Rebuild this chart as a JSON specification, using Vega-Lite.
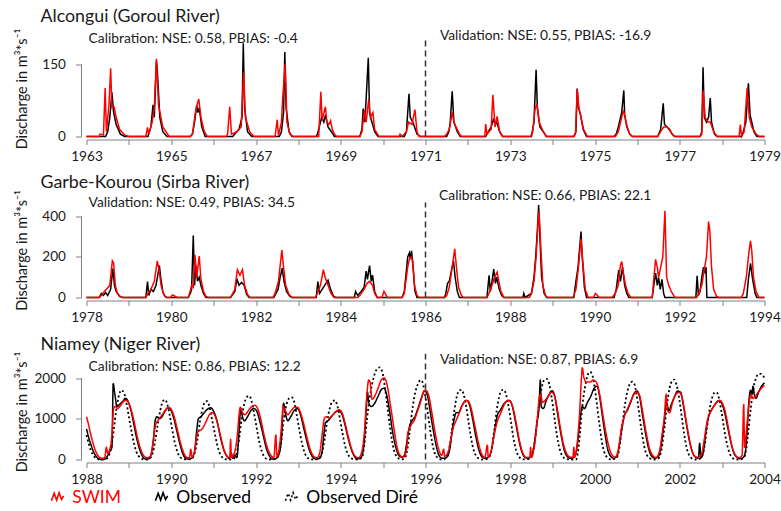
{
"$schema": "https://vega.github.io/schema/vega-lite/v6.json",
"background": "white",
"padding": {"left": 14.5, "top": 7.5, "right": 0, "bottom": 0},
"config": {
  "font": "Lato",
  "view": {"stroke": null},
  "axis": {"grid": false, "domainColor": "#808080", "tickColor": "#808080", "labelColor": "#1a1a1a", "titleColor": "#1a1a1a", "labelFontSize": 13.6, "titleFontSize": 14.5, "titleFontWeight": "normal", "labelFont": "Lato", "titleFont": "Lato"},
  "title": {"fontSize": 17.8, "fontWeight": "normal", "color": "#1a1a1a", "anchor": "start", "frame": "group", "dx": -46, "font": "Lato"},
  "legend": {"labelFontSize": 17.5, "labelFont": "Lato", "symbolType": "M-1,0.5L-0.55,-0.7L-0.15,0.4L0.25,-0.8L0.65,0.3L1,-0.3", "symbolSize": 150, "symbolStrokeWidth": 1.6, "columnPadding": 30, "labelOffset": 6, "symbolFillColor": "transparent"}
},
"spacing": 66,
"bounds": "flush",
"resolve": {"scale": {"color": "independent", "strokeDash": "independent"}, "legend": {"color": "independent", "strokeDash": "independent"}},
"datasets": {
"aO": [{"t":1963,"q":0},{"t":1963.45,"q":0},{"t":1963.5,"q":10},{"t":1963.55,"q":40},{"t":1963.6,"q":92},{"t":1963.64,"q":50},{"t":1963.7,"q":25},{"t":1963.8,"q":5},{"t":1963.9,"q":0},{"t":1964.45,"q":0},{"t":1964.52,"q":20},{"t":1964.57,"q":66},{"t":1964.6,"q":40},{"t":1964.65,"q":157},{"t":1964.67,"q":140},{"t":1964.73,"q":40},{"t":1964.8,"q":10},{"t":1964.9,"q":0},{"t":1965.45,"q":0},{"t":1965.5,"q":5},{"t":1965.55,"q":30},{"t":1965.6,"q":65},{"t":1965.63,"q":50},{"t":1965.66,"q":60},{"t":1965.72,"q":20},{"t":1965.8,"q":0},{"t":1966.45,"q":0},{"t":1966.5,"q":5},{"t":1966.6,"q":15},{"t":1966.67,"q":40},{"t":1966.7,"q":194},{"t":1966.73,"q":60},{"t":1966.8,"q":10},{"t":1966.9,"q":0},{"t":1967.55,"q":0},{"t":1967.6,"q":10},{"t":1967.65,"q":50},{"t":1967.68,"q":176},{"t":1967.71,"q":60},{"t":1967.78,"q":10},{"t":1967.85,"q":0},{"t":1968.42,"q":0},{"t":1968.45,"q":5},{"t":1968.55,"q":40},{"t":1968.6,"q":30},{"t":1968.64,"q":45},{"t":1968.7,"q":20},{"t":1968.78,"q":10},{"t":1968.85,"q":0},{"t":1969.45,"q":0},{"t":1969.5,"q":15},{"t":1969.53,"q":58},{"t":1969.57,"q":30},{"t":1969.65,"q":164},{"t":1969.68,"q":50},{"t":1969.72,"q":35},{"t":1969.8,"q":10},{"t":1969.88,"q":0},{"t":1970.5,"q":0},{"t":1970.55,"q":10},{"t":1970.61,"q":89},{"t":1970.64,"q":40},{"t":1970.7,"q":30},{"t":1970.8,"q":5},{"t":1970.88,"q":0},{"t":1971.5,"q":0},{"t":1971.55,"q":10},{"t":1971.58,"q":25},{"t":1971.63,"q":94},{"t":1971.67,"q":30},{"t":1971.75,"q":10},{"t":1971.82,"q":0},{"t":1972.42,"q":0},{"t":1972.45,"q":5},{"t":1972.55,"q":20},{"t":1972.6,"q":35},{"t":1972.65,"q":25},{"t":1972.68,"q":30},{"t":1972.75,"q":10},{"t":1972.82,"q":0},{"t":1973.5,"q":0},{"t":1973.56,"q":30},{"t":1973.61,"q":139},{"t":1973.64,"q":60},{"t":1973.7,"q":20},{"t":1973.78,"q":10},{"t":1973.85,"q":0},{"t":1974.5,"q":0},{"t":1974.55,"q":10},{"t":1974.58,"q":100},{"t":1974.61,"q":60},{"t":1974.66,"q":45},{"t":1974.72,"q":15},{"t":1974.8,"q":0},{"t":1975.45,"q":0},{"t":1975.5,"q":5},{"t":1975.55,"q":20},{"t":1975.63,"q":50},{"t":1975.68,"q":96},{"t":1975.7,"q":45},{"t":1975.75,"q":20},{"t":1975.82,"q":5},{"t":1975.88,"q":0},{"t":1976.48,"q":0},{"t":1976.55,"q":15},{"t":1976.61,"q":69},{"t":1976.64,"q":25},{"t":1976.7,"q":20},{"t":1976.75,"q":15},{"t":1976.82,"q":5},{"t":1976.88,"q":0},{"t":1977.48,"q":0},{"t":1977.52,"q":10},{"t":1977.55,"q":144},{"t":1977.58,"q":40},{"t":1977.63,"q":30},{"t":1977.68,"q":40},{"t":1977.72,"q":80},{"t":1977.75,"q":30},{"t":1977.82,"q":5},{"t":1977.88,"q":0},{"t":1978.45,"q":0},{"t":1978.5,"q":10},{"t":1978.56,"q":30},{"t":1978.62,"q":111},{"t":1978.66,"q":45},{"t":1978.75,"q":10},{"t":1978.82,"q":0},{"t":1979,"q":0}],
"aS": [{"t":1963,"q":0},{"t":1963.3,"q":0},{"t":1963.32,"q":5},{"t":1963.4,"q":3},{"t":1963.44,"q":101},{"t":1963.47,"q":10},{"t":1963.53,"q":65},{"t":1963.57,"q":142},{"t":1963.6,"q":60},{"t":1963.65,"q":62},{"t":1963.7,"q":40},{"t":1963.78,"q":15},{"t":1963.9,"q":3},{"t":1964,"q":0},{"t":1964.4,"q":0},{"t":1964.44,"q":19},{"t":1964.47,"q":5},{"t":1964.55,"q":30},{"t":1964.6,"q":60},{"t":1964.65,"q":162},{"t":1964.7,"q":65},{"t":1964.8,"q":20},{"t":1964.95,"q":0},{"t":1965.45,"q":0},{"t":1965.5,"q":5},{"t":1965.57,"q":50},{"t":1965.62,"q":70},{"t":1965.65,"q":78},{"t":1965.7,"q":40},{"t":1965.78,"q":10},{"t":1965.85,"q":0},{"t":1966.3,"q":0},{"t":1966.33,"q":5},{"t":1966.38,"q":62},{"t":1966.42,"q":5},{"t":1966.55,"q":10},{"t":1966.65,"q":20},{"t":1966.71,"q":134},{"t":1966.75,"q":40},{"t":1966.85,"q":10},{"t":1966.95,"q":0},{"t":1967.45,"q":0},{"t":1967.5,"q":35},{"t":1967.53,"q":2},{"t":1967.6,"q":30},{"t":1967.63,"q":80},{"t":1967.69,"q":151},{"t":1967.73,"q":30},{"t":1967.8,"q":5},{"t":1967.88,"q":0},{"t":1968.48,"q":0},{"t":1968.53,"q":93},{"t":1968.56,"q":35},{"t":1968.64,"q":62},{"t":1968.67,"q":30},{"t":1968.72,"q":25},{"t":1968.76,"q":33},{"t":1968.8,"q":15},{"t":1968.85,"q":5},{"t":1968.9,"q":0},{"t":1969.45,"q":0},{"t":1969.5,"q":10},{"t":1969.56,"q":55},{"t":1969.6,"q":30},{"t":1969.66,"q":78},{"t":1969.7,"q":40},{"t":1969.76,"q":50},{"t":1969.8,"q":15},{"t":1969.9,"q":0},{"t":1970.38,"q":0},{"t":1970.4,"q":5},{"t":1970.45,"q":0},{"t":1970.55,"q":10},{"t":1970.6,"q":30},{"t":1970.68,"q":25},{"t":1970.75,"q":56},{"t":1970.8,"q":10},{"t":1970.85,"q":0},{"t":1971.45,"q":0},{"t":1971.5,"q":5},{"t":1971.56,"q":15},{"t":1971.63,"q":50},{"t":1971.67,"q":30},{"t":1971.72,"q":20},{"t":1971.8,"q":5},{"t":1971.85,"q":0},{"t":1972.4,"q":0},{"t":1972.42,"q":26},{"t":1972.45,"q":5},{"t":1972.55,"q":15},{"t":1972.59,"q":87},{"t":1972.64,"q":20},{"t":1972.69,"q":42},{"t":1972.75,"q":10},{"t":1972.82,"q":0},{"t":1973.48,"q":0},{"t":1973.53,"q":10},{"t":1973.58,"q":55},{"t":1973.63,"q":68},{"t":1973.68,"q":30},{"t":1973.78,"q":10},{"t":1973.85,"q":0},{"t":1974.5,"q":0},{"t":1974.54,"q":5},{"t":1974.58,"q":98},{"t":1974.62,"q":60},{"t":1974.67,"q":40},{"t":1974.73,"q":15},{"t":1974.82,"q":0},{"t":1975.48,"q":0},{"t":1975.55,"q":10},{"t":1975.63,"q":40},{"t":1975.67,"q":55},{"t":1975.71,"q":40},{"t":1975.76,"q":20},{"t":1975.82,"q":5},{"t":1975.88,"q":0},{"t":1976.48,"q":0},{"t":1976.55,"q":10},{"t":1976.62,"q":20},{"t":1976.7,"q":20},{"t":1976.76,"q":15},{"t":1976.82,"q":5},{"t":1976.88,"q":0},{"t":1977.48,"q":0},{"t":1977.52,"q":5},{"t":1977.55,"q":96},{"t":1977.6,"q":40},{"t":1977.66,"q":30},{"t":1977.72,"q":30},{"t":1977.8,"q":10},{"t":1977.88,"q":0},{"t":1978.4,"q":0},{"t":1978.43,"q":25},{"t":1978.46,"q":0},{"t":1978.52,"q":10},{"t":1978.59,"q":101},{"t":1978.64,"q":40},{"t":1978.7,"q":20},{"t":1978.8,"q":5},{"t":1978.88,"q":0},{"t":1979,"q":0}],
"bO": [{"t":1978,"q":0},{"t":1978.3,"q":0},{"t":1978.35,"q":20},{"t":1978.4,"q":10},{"t":1978.45,"q":25},{"t":1978.5,"q":10},{"t":1978.57,"q":40},{"t":1978.62,"q":143},{"t":1978.66,"q":60},{"t":1978.7,"q":30},{"t":1978.78,"q":5},{"t":1978.85,"q":0},{"t":1979.4,"q":0},{"t":1979.44,"q":79},{"t":1979.47,"q":10},{"t":1979.52,"q":40},{"t":1979.58,"q":30},{"t":1979.64,"q":60},{"t":1979.72,"q":157},{"t":1979.75,"q":100},{"t":1979.8,"q":30},{"t":1979.85,"q":5},{"t":1979.9,"q":0},{"t":1980.4,"q":0},{"t":1980.45,"q":20},{"t":1980.48,"q":40},{"t":1980.52,"q":306},{"t":1980.55,"q":60},{"t":1980.58,"q":160},{"t":1980.62,"q":80},{"t":1980.66,"q":100},{"t":1980.7,"q":60},{"t":1980.76,"q":20},{"t":1980.82,"q":0},{"t":1981.4,"q":0},{"t":1981.5,"q":30},{"t":1981.55,"q":90},{"t":1981.6,"q":60},{"t":1981.66,"q":75},{"t":1981.72,"q":60},{"t":1981.78,"q":15},{"t":1981.84,"q":0},{"t":1982.42,"q":0},{"t":1982.47,"q":20},{"t":1982.52,"q":40},{"t":1982.57,"q":100},{"t":1982.62,"q":145},{"t":1982.66,"q":80},{"t":1982.72,"q":30},{"t":1982.8,"q":5},{"t":1982.86,"q":0},{"t":1983.42,"q":0},{"t":1983.46,"q":79},{"t":1983.5,"q":20},{"t":1983.56,"q":40},{"t":1983.62,"q":60},{"t":1983.7,"q":85},{"t":1983.76,"q":40},{"t":1983.82,"q":10},{"t":1983.88,"q":0},{"t":1984.32,"q":0},{"t":1984.35,"q":30},{"t":1984.4,"q":10},{"t":1984.48,"q":30},{"t":1984.55,"q":50},{"t":1984.6,"q":130},{"t":1984.63,"q":90},{"t":1984.68,"q":157},{"t":1984.72,"q":80},{"t":1984.75,"q":110},{"t":1984.8,"q":30},{"t":1984.86,"q":0},{"t":1985.45,"q":0},{"t":1985.5,"q":30},{"t":1985.58,"q":200},{"t":1985.62,"q":220},{"t":1985.64,"q":190},{"t":1985.67,"q":230},{"t":1985.71,"q":140},{"t":1985.75,"q":30},{"t":1985.8,"q":0},{"t":1986.45,"q":0},{"t":1986.48,"q":20},{"t":1986.52,"q":70},{"t":1986.56,"q":80},{"t":1986.62,"q":140},{"t":1986.66,"q":180},{"t":1986.7,"q":100},{"t":1986.75,"q":30},{"t":1986.8,"q":0},{"t":1987.45,"q":0},{"t":1987.5,"q":110},{"t":1987.53,"q":30},{"t":1987.57,"q":80},{"t":1987.61,"q":140},{"t":1987.65,"q":70},{"t":1987.68,"q":100},{"t":1987.74,"q":40},{"t":1987.8,"q":10},{"t":1987.85,"q":0},{"t":1988.3,"q":0},{"t":1988.32,"q":20},{"t":1988.35,"q":0},{"t":1988.5,"q":20},{"t":1988.56,"q":100},{"t":1988.6,"q":200},{"t":1988.64,"q":330},{"t":1988.67,"q":456},{"t":1988.7,"q":300},{"t":1988.74,"q":100},{"t":1988.8,"q":20},{"t":1988.86,"q":0},{"t":1989.5,"q":0},{"t":1989.55,"q":80},{"t":1989.6,"q":150},{"t":1989.67,"q":326},{"t":1989.7,"q":200},{"t":1989.75,"q":50},{"t":1989.8,"q":0},{"t":1990.45,"q":0},{"t":1990.5,"q":40},{"t":1990.56,"q":135},{"t":1990.6,"q":80},{"t":1990.65,"q":150},{"t":1990.7,"q":60},{"t":1990.75,"q":20},{"t":1990.8,"q":0},{"t":1991.35,"q":0},{"t":1991.4,"q":80},{"t":1991.43,"q":120},{"t":1991.47,"q":60},{"t":1991.5,"q":100},{"t":1991.54,"q":40},{"t":1991.58,"q":90},{"t":1991.62,"q":20},{"t":1991.65,"q":0},{"t":1992.38,"q":0},{"t":1992.41,"q":107},{"t":1992.44,"q":10},{"t":1992.48,"q":30},{"t":1992.52,"q":100},{"t":1992.56,"q":150},{"t":1992.6,"q":120},{"t":1992.62,"q":150},{"t":1992.64,"q":0},{"t":1993.58,"q":0},{"t":1993.62,"q":90},{"t":1993.67,"q":168},{"t":1993.72,"q":90},{"t":1993.78,"q":20},{"t":1993.82,"q":0},{"t":1994,"q":0}],
"bS": [{"t":1978,"q":0},{"t":1978.3,"q":0},{"t":1978.35,"q":10},{"t":1978.42,"q":30},{"t":1978.5,"q":48},{"t":1978.55,"q":60},{"t":1978.61,"q":181},{"t":1978.64,"q":170},{"t":1978.68,"q":60},{"t":1978.73,"q":20},{"t":1978.8,"q":5},{"t":1978.85,"q":0},{"t":1979.4,"q":0},{"t":1979.45,"q":20},{"t":1979.52,"q":40},{"t":1979.6,"q":80},{"t":1979.67,"q":181},{"t":1979.71,"q":140},{"t":1979.76,"q":60},{"t":1979.82,"q":15},{"t":1979.88,"q":0},{"t":1979.98,"q":0},{"t":1980.03,"q":13},{"t":1980.1,"q":5},{"t":1980.14,"q":0},{"t":1980.4,"q":0},{"t":1980.42,"q":10},{"t":1980.48,"q":60},{"t":1980.52,"q":50},{"t":1980.56,"q":211},{"t":1980.6,"q":100},{"t":1980.66,"q":205},{"t":1980.7,"q":90},{"t":1980.76,"q":30},{"t":1980.82,"q":5},{"t":1980.88,"q":0},{"t":1981.4,"q":0},{"t":1981.5,"q":40},{"t":1981.56,"q":137},{"t":1981.62,"q":110},{"t":1981.68,"q":137},{"t":1981.73,"q":60},{"t":1981.8,"q":15},{"t":1981.86,"q":0},{"t":1982.4,"q":0},{"t":1982.45,"q":20},{"t":1982.53,"q":80},{"t":1982.61,"q":234},{"t":1982.65,"q":150},{"t":1982.7,"q":60},{"t":1982.78,"q":15},{"t":1982.85,"q":0},{"t":1983.4,"q":0},{"t":1983.45,"q":20},{"t":1983.52,"q":60},{"t":1983.59,"q":137},{"t":1983.63,"q":100},{"t":1983.7,"q":60},{"t":1983.77,"q":20},{"t":1983.84,"q":0},{"t":1984.4,"q":0},{"t":1984.45,"q":10},{"t":1984.55,"q":40},{"t":1984.62,"q":70},{"t":1984.68,"q":80},{"t":1984.75,"q":60},{"t":1984.8,"q":20},{"t":1984.86,"q":0},{"t":1984.97,"q":0},{"t":1985.02,"q":30},{"t":1985.06,"q":15},{"t":1985.1,"q":0},{"t":1985.45,"q":0},{"t":1985.5,"q":20},{"t":1985.58,"q":150},{"t":1985.62,"q":190},{"t":1985.66,"q":200},{"t":1985.7,"q":180},{"t":1985.74,"q":60},{"t":1985.8,"q":10},{"t":1985.85,"q":0},{"t":1986.45,"q":0},{"t":1986.5,"q":10},{"t":1986.56,"q":50},{"t":1986.63,"q":150},{"t":1986.69,"q":240},{"t":1986.73,"q":150},{"t":1986.78,"q":50},{"t":1986.85,"q":10},{"t":1986.9,"q":0},{"t":1987.45,"q":0},{"t":1987.52,"q":30},{"t":1987.57,"q":60},{"t":1987.63,"q":100},{"t":1987.69,"q":125},{"t":1987.73,"q":80},{"t":1987.78,"q":30},{"t":1987.85,"q":0},{"t":1988.45,"q":0},{"t":1988.5,"q":20},{"t":1988.56,"q":80},{"t":1988.61,"q":200},{"t":1988.65,"q":350},{"t":1988.68,"q":428},{"t":1988.72,"q":250},{"t":1988.77,"q":60},{"t":1988.83,"q":10},{"t":1988.88,"q":0},{"t":1989.48,"q":0},{"t":1989.55,"q":40},{"t":1989.61,"q":150},{"t":1989.67,"q":290},{"t":1989.71,"q":180},{"t":1989.77,"q":40},{"t":1989.84,"q":0},{"t":1989.96,"q":0},{"t":1990.01,"q":20},{"t":1990.06,"q":10},{"t":1990.1,"q":0},{"t":1990.4,"q":0},{"t":1990.48,"q":20},{"t":1990.55,"q":60},{"t":1990.6,"q":160},{"t":1990.63,"q":178},{"t":1990.67,"q":120},{"t":1990.72,"q":60},{"t":1990.78,"q":20},{"t":1990.85,"q":0},{"t":1991.35,"q":0},{"t":1991.39,"q":100},{"t":1991.43,"q":188},{"t":1991.47,"q":150},{"t":1991.5,"q":100},{"t":1991.55,"q":150},{"t":1991.6,"q":200},{"t":1991.65,"q":428},{"t":1991.69,"q":100},{"t":1991.74,"q":60},{"t":1991.8,"q":30},{"t":1991.87,"q":5},{"t":1991.9,"q":0},{"t":1992.4,"q":0},{"t":1992.45,"q":20},{"t":1992.52,"q":60},{"t":1992.58,"q":140},{"t":1992.63,"q":200},{"t":1992.68,"q":375},{"t":1992.71,"q":330},{"t":1992.75,"q":150},{"t":1992.8,"q":40},{"t":1992.87,"q":5},{"t":1992.92,"q":0},{"t":1993.45,"q":0},{"t":1993.5,"q":20},{"t":1993.57,"q":100},{"t":1993.63,"q":220},{"t":1993.67,"q":280},{"t":1993.7,"q":230},{"t":1993.74,"q":100},{"t":1993.8,"q":30},{"t":1993.87,"q":0},{"t":1994,"q":0}],
"c": [
{"s":"Observed","t":1988,"q":750},{"s":"Observed","t":1988.05,"q":550},{"s":"Observed","t":1988.1,"q":380},{"s":"Observed","t":1988.15,"q":230},{"s":"Observed","t":1988.2,"q":120},{"s":"Observed","t":1988.25,"q":50},{"s":"Observed","t":1988.3,"q":10},{"s":"Observed","t":1988.38,"q":0},{"s":"Observed","t":1988.45,"q":20},{"s":"Observed","t":1988.5,"q":100},{"s":"Observed","t":1988.55,"q":200},{"s":"Observed","t":1988.6,"q":300},{"s":"Observed","t":1988.63,"q":1860},{"s":"Observed","t":1988.67,"q":1600},{"s":"Observed","t":1988.72,"q":1300},{"s":"Observed","t":1988.78,"q":1350},{"s":"Observed","t":1988.85,"q":1420},{"s":"Observed","t":1988.92,"q":1500},{"s":"Observed","t":1988.97,"q":1450},{"s":"Observed","t":1989.05,"q":1200},{"s":"Observed","t":1989.12,"q":850},{"s":"Observed","t":1989.2,"q":450},{"s":"Observed","t":1989.27,"q":200},{"s":"Observed","t":1989.33,"q":60},{"s":"Observed","t":1989.4,"q":10},{"s":"Observed","t":1989.47,"q":20},{"s":"Observed","t":1989.53,"q":150},{"s":"Observed","t":1989.58,"q":500},{"s":"Observed","t":1989.62,"q":950},{"s":"Observed","t":1989.66,"q":1050},{"s":"Observed","t":1989.72,"q":1000},{"s":"Observed","t":1989.78,"q":1050},{"s":"Observed","t":1989.85,"q":1180},{"s":"Observed","t":1989.92,"q":1270},{"s":"Observed","t":1989.98,"q":1230},{"s":"Observed","t":1990.05,"q":1050},{"s":"Observed","t":1990.12,"q":750},{"s":"Observed","t":1990.2,"q":400},{"s":"Observed","t":1990.27,"q":150},{"s":"Observed","t":1990.33,"q":40},{"s":"Observed","t":1990.4,"q":10},{"s":"Observed","t":1990.48,"q":30},{"s":"Observed","t":1990.55,"q":200},{"s":"Observed","t":1990.6,"q":700},{"s":"Observed","t":1990.64,"q":1000},{"s":"Observed","t":1990.7,"q":1050},{"s":"Observed","t":1990.78,"q":1150},{"s":"Observed","t":1990.85,"q":1230},{"s":"Observed","t":1990.93,"q":1270},{"s":"Observed","t":1991,"q":1180},{"s":"Observed","t":1991.08,"q":950},{"s":"Observed","t":1991.15,"q":600},{"s":"Observed","t":1991.22,"q":300},{"s":"Observed","t":1991.3,"q":100},{"s":"Observed","t":1991.37,"q":20},{"s":"Observed","t":1991.42,"q":150},{"s":"Observed","t":1991.45,"q":30},{"s":"Observed","t":1991.5,"q":100},{"s":"Observed","t":1991.55,"q":50},{"s":"Observed","t":1991.6,"q":700},{"s":"Observed","t":1991.64,"q":1250},{"s":"Observed","t":1991.68,"q":1050},{"s":"Observed","t":1991.73,"q":950},{"s":"Observed","t":1991.8,"q":1050},{"s":"Observed","t":1991.88,"q":1200},{"s":"Observed","t":1991.95,"q":1250},{"s":"Observed","t":1992.02,"q":1180},{"s":"Observed","t":1992.1,"q":900},{"s":"Observed","t":1992.18,"q":550},{"s":"Observed","t":1992.25,"q":250},{"s":"Observed","t":1992.32,"q":80},{"s":"Observed","t":1992.4,"q":10},{"s":"Observed","t":1992.48,"q":30},{"s":"Observed","t":1992.55,"q":150},{"s":"Observed","t":1992.6,"q":500},{"s":"Observed","t":1992.65,"q":1380},{"s":"Observed","t":1992.7,"q":1100},{"s":"Observed","t":1992.75,"q":950},{"s":"Observed","t":1992.82,"q":1050},{"s":"Observed","t":1992.9,"q":1200},{"s":"Observed","t":1992.98,"q":1250},{"s":"Observed","t":1993.05,"q":1100},{"s":"Observed","t":1993.12,"q":800},{"s":"Observed","t":1993.2,"q":450},{"s":"Observed","t":1993.27,"q":200},{"s":"Observed","t":1993.34,"q":60},{"s":"Observed","t":1993.42,"q":10},{"s":"Observed","t":1993.5,"q":30},{"s":"Observed","t":1993.56,"q":200},{"s":"Observed","t":1993.6,"q":600},{"s":"Observed","t":1993.64,"q":900},{"s":"Observed","t":1993.7,"q":950},{"s":"Observed","t":1993.78,"q":1050},{"s":"Observed","t":1993.86,"q":1150},{"s":"Observed","t":1993.95,"q":1200},{"s":"Observed","t":1994.02,"q":1130},{"s":"Observed","t":1994.1,"q":850},{"s":"Observed","t":1994.18,"q":500},{"s":"Observed","t":1994.25,"q":250},{"s":"Observed","t":1994.32,"q":80},{"s":"Observed","t":1994.4,"q":15},{"s":"Observed","t":1994.48,"q":50},{"s":"Observed","t":1994.55,"q":400},{"s":"Observed","t":1994.6,"q":1200},{"s":"Observed","t":1994.63,"q":1650},{"s":"Observed","t":1994.66,"q":1400},{"s":"Observed","t":1994.72,"q":1300},{"s":"Observed","t":1994.8,"q":1380},{"s":"Observed","t":1994.88,"q":1550},{"s":"Observed","t":1994.96,"q":1720},{"s":"Observed","t":1995.02,"q":1750},{"s":"Observed","t":1995.08,"q":1600},{"s":"Observed","t":1995.15,"q":1200},{"s":"Observed","t":1995.22,"q":700},{"s":"Observed","t":1995.3,"q":300},{"s":"Observed","t":1995.37,"q":100},{"s":"Observed","t":1995.43,"q":60},{"s":"Observed","t":1995.5,"q":100},{"s":"Observed","t":1995.57,"q":500},{"s":"Observed","t":1995.62,"q":800},{"s":"Observed","t":1995.68,"q":950},{"s":"Observed","t":1995.75,"q":1050},{"s":"Observed","t":1995.82,"q":1250},{"s":"Observed","t":1995.9,"q":1500},{"s":"Observed","t":1995.98,"q":1680},{"s":"Observed","t":1996.04,"q":1600},{"s":"Observed","t":1996.1,"q":1250},{"s":"Observed","t":1996.17,"q":800},{"s":"Observed","t":1996.24,"q":400},{"s":"Observed","t":1996.3,"q":150},{"s":"Observed","t":1996.37,"q":40},{"s":"Observed","t":1996.45,"q":30},{"s":"Observed","t":1996.52,"q":80},{"s":"Observed","t":1996.58,"q":300},{"s":"Observed","t":1996.63,"q":700},{"s":"Observed","t":1996.68,"q":1000},{"s":"Observed","t":1996.72,"q":1150},{"s":"Observed","t":1996.78,"q":1150},{"s":"Observed","t":1996.85,"q":1300},{"s":"Observed","t":1996.92,"q":1420},{"s":"Observed","t":1996.98,"q":1450},{"s":"Observed","t":1997.05,"q":1300},{"s":"Observed","t":1997.12,"q":950},{"s":"Observed","t":1997.2,"q":500},{"s":"Observed","t":1997.27,"q":200},{"s":"Observed","t":1997.34,"q":60},{"s":"Observed","t":1997.42,"q":30},{"s":"Observed","t":1997.5,"q":80},{"s":"Observed","t":1997.57,"q":300},{"s":"Observed","t":1997.63,"q":700},{"s":"Observed","t":1997.7,"q":1100},{"s":"Observed","t":1997.76,"q":1200},{"s":"Observed","t":1997.84,"q":1350},{"s":"Observed","t":1997.92,"q":1430},{"s":"Observed","t":1997.98,"q":1450},{"s":"Observed","t":1998.05,"q":1300},{"s":"Observed","t":1998.12,"q":950},{"s":"Observed","t":1998.2,"q":500},{"s":"Observed","t":1998.27,"q":200},{"s":"Observed","t":1998.34,"q":60},{"s":"Observed","t":1998.42,"q":30},{"s":"Observed","t":1998.5,"q":100},{"s":"Observed","t":1998.57,"q":400},{"s":"Observed","t":1998.63,"q":900},{"s":"Observed","t":1998.68,"q":1300},{"s":"Observed","t":1998.71,"q":1950},{"s":"Observed","t":1998.73,"q":1300},{"s":"Observed","t":1998.78,"q":1250},{"s":"Observed","t":1998.85,"q":1450},{"s":"Observed","t":1998.93,"q":1620},{"s":"Observed","t":1998.99,"q":1690},{"s":"Observed","t":1999.05,"q":1550},{"s":"Observed","t":1999.12,"q":1100},{"s":"Observed","t":1999.2,"q":600},{"s":"Observed","t":1999.27,"q":250},{"s":"Observed","t":1999.34,"q":80},{"s":"Observed","t":1999.42,"q":30},{"s":"Observed","t":1999.5,"q":50},{"s":"Observed","t":1999.55,"q":150},{"s":"Observed","t":1999.6,"q":500},{"s":"Observed","t":1999.65,"q":1000},{"s":"Observed","t":1999.7,"q":1300},{"s":"Observed","t":1999.75,"q":1250},{"s":"Observed","t":1999.82,"q":1400},{"s":"Observed","t":1999.9,"q":1550},{"s":"Observed","t":1999.98,"q":1750},{"s":"Observed","t":2000.05,"q":1800},{"s":"Observed","t":2000.1,"q":1600},{"s":"Observed","t":2000.17,"q":1100},{"s":"Observed","t":2000.24,"q":600},{"s":"Observed","t":2000.3,"q":250},{"s":"Observed","t":2000.37,"q":80},{"s":"Observed","t":2000.44,"q":30},{"s":"Observed","t":2000.52,"q":80},{"s":"Observed","t":2000.58,"q":400},{"s":"Observed","t":2000.64,"q":800},{"s":"Observed","t":2000.7,"q":1100},{"s":"Observed","t":2000.76,"q":1200},{"s":"Observed","t":2000.84,"q":1400},{"s":"Observed","t":2000.92,"q":1620},{"s":"Observed","t":2000.99,"q":1680},{"s":"Observed","t":2001.05,"q":1550},{"s":"Observed","t":2001.12,"q":1100},{"s":"Observed","t":2001.2,"q":600},{"s":"Observed","t":2001.27,"q":250},{"s":"Observed","t":2001.34,"q":80},{"s":"Observed","t":2001.42,"q":30},{"s":"Observed","t":2001.5,"q":80},{"s":"Observed","t":2001.57,"q":400},{"s":"Observed","t":2001.63,"q":900},{"s":"Observed","t":2001.69,"q":1400},{"s":"Observed","t":2001.74,"q":1200},{"s":"Observed","t":2001.8,"q":1350},{"s":"Observed","t":2001.88,"q":1550},{"s":"Observed","t":2001.95,"q":1680},{"s":"Observed","t":2002.02,"q":1650},{"s":"Observed","t":2002.09,"q":1300},{"s":"Observed","t":2002.16,"q":850},{"s":"Observed","t":2002.23,"q":450},{"s":"Observed","t":2002.3,"q":180},{"s":"Observed","t":2002.37,"q":60},{"s":"Observed","t":2002.44,"q":30},{"s":"Observed","t":2002.47,"q":400},{"s":"Observed","t":2002.5,"q":40},{"s":"Observed","t":2002.56,"q":200},{"s":"Observed","t":2002.62,"q":700},{"s":"Observed","t":2002.68,"q":1050},{"s":"Observed","t":2002.74,"q":1200},{"s":"Observed","t":2002.8,"q":1300},{"s":"Observed","t":2002.87,"q":1400},{"s":"Observed","t":2002.93,"q":1450},{"s":"Observed","t":2002.99,"q":1380},{"s":"Observed","t":2003.06,"q":1150},{"s":"Observed","t":2003.13,"q":800},{"s":"Observed","t":2003.2,"q":450},{"s":"Observed","t":2003.27,"q":180},{"s":"Observed","t":2003.34,"q":60},{"s":"Observed","t":2003.42,"q":20},{"s":"Observed","t":2003.5,"q":50},{"s":"Observed","t":2003.55,"q":200},{"s":"Observed","t":2003.59,"q":700},{"s":"Observed","t":2003.63,"q":1400},{"s":"Observed","t":2003.67,"q":1700},{"s":"Observed","t":2003.7,"q":1600},{"s":"Observed","t":2003.73,"q":1800},{"s":"Observed","t":2003.76,"q":1600},{"s":"Observed","t":2003.8,"q":1500},{"s":"Observed","t":2003.86,"q":1650},{"s":"Observed","t":2003.93,"q":1800},{"s":"Observed","t":2004,"q":1880},
{"s":"SWIM","t":1988,"q":1050},{"s":"SWIM","t":1988.05,"q":850},{"s":"SWIM","t":1988.1,"q":620},{"s":"SWIM","t":1988.15,"q":420},{"s":"SWIM","t":1988.2,"q":250},{"s":"SWIM","t":1988.25,"q":130},{"s":"SWIM","t":1988.3,"q":60},{"s":"SWIM","t":1988.37,"q":30},{"s":"SWIM","t":1988.43,"q":50},{"s":"SWIM","t":1988.47,"q":300},{"s":"SWIM","t":1988.5,"q":150},{"s":"SWIM","t":1988.55,"q":250},{"s":"SWIM","t":1988.6,"q":600},{"s":"SWIM","t":1988.64,"q":1250},{"s":"SWIM","t":1988.68,"q":1300},{"s":"SWIM","t":1988.73,"q":1250},{"s":"SWIM","t":1988.8,"q":1320},{"s":"SWIM","t":1988.87,"q":1420},{"s":"SWIM","t":1988.93,"q":1450},{"s":"SWIM","t":1988.99,"q":1400},{"s":"SWIM","t":1989.06,"q":1200},{"s":"SWIM","t":1989.13,"q":900},{"s":"SWIM","t":1989.2,"q":550},{"s":"SWIM","t":1989.28,"q":250},{"s":"SWIM","t":1989.36,"q":80},{"s":"SWIM","t":1989.44,"q":40},{"s":"SWIM","t":1989.52,"q":100},{"s":"SWIM","t":1989.58,"q":500},{"s":"SWIM","t":1989.63,"q":850},{"s":"SWIM","t":1989.68,"q":950},{"s":"SWIM","t":1989.75,"q":1050},{"s":"SWIM","t":1989.82,"q":1150},{"s":"SWIM","t":1989.88,"q":1240},{"s":"SWIM","t":1989.94,"q":1280},{"s":"SWIM","t":1990,"q":1230},{"s":"SWIM","t":1990.07,"q":1050},{"s":"SWIM","t":1990.14,"q":750},{"s":"SWIM","t":1990.22,"q":400},{"s":"SWIM","t":1990.3,"q":150},{"s":"SWIM","t":1990.37,"q":50},{"s":"SWIM","t":1990.43,"q":40},{"s":"SWIM","t":1990.46,"q":250},{"s":"SWIM","t":1990.49,"q":60},{"s":"SWIM","t":1990.55,"q":200},{"s":"SWIM","t":1990.6,"q":550},{"s":"SWIM","t":1990.64,"q":700},{"s":"SWIM","t":1990.7,"q":720},{"s":"SWIM","t":1990.76,"q":800},{"s":"SWIM","t":1990.83,"q":950},{"s":"SWIM","t":1990.9,"q":1100},{"s":"SWIM","t":1990.97,"q":1150},{"s":"SWIM","t":1991.03,"q":1080},{"s":"SWIM","t":1991.1,"q":850},{"s":"SWIM","t":1991.17,"q":550},{"s":"SWIM","t":1991.24,"q":250},{"s":"SWIM","t":1991.32,"q":80},{"s":"SWIM","t":1991.38,"q":40},{"s":"SWIM","t":1991.4,"q":500},{"s":"SWIM","t":1991.42,"q":50},{"s":"SWIM","t":1991.5,"q":200},{"s":"SWIM","t":1991.56,"q":600},{"s":"SWIM","t":1991.6,"q":1100},{"s":"SWIM","t":1991.63,"q":1280},{"s":"SWIM","t":1991.68,"q":1150},{"s":"SWIM","t":1991.74,"q":1100},{"s":"SWIM","t":1991.82,"q":1200},{"s":"SWIM","t":1991.9,"q":1300},{"s":"SWIM","t":1991.97,"q":1330},{"s":"SWIM","t":1992.04,"q":1250},{"s":"SWIM","t":1992.11,"q":1000},{"s":"SWIM","t":1992.18,"q":650},{"s":"SWIM","t":1992.26,"q":320},{"s":"SWIM","t":1992.34,"q":120},{"s":"SWIM","t":1992.42,"q":50},{"s":"SWIM","t":1992.47,"q":600},{"s":"SWIM","t":1992.49,"q":60},{"s":"SWIM","t":1992.55,"q":300},{"s":"SWIM","t":1992.6,"q":800},{"s":"SWIM","t":1992.64,"q":1300},{"s":"SWIM","t":1992.69,"q":1200},{"s":"SWIM","t":1992.75,"q":1100},{"s":"SWIM","t":1992.83,"q":1200},{"s":"SWIM","t":1992.91,"q":1280},{"s":"SWIM","t":1992.98,"q":1280},{"s":"SWIM","t":1993.05,"q":1150},{"s":"SWIM","t":1993.12,"q":900},{"s":"SWIM","t":1993.2,"q":550},{"s":"SWIM","t":1993.28,"q":250},{"s":"SWIM","t":1993.36,"q":80},{"s":"SWIM","t":1993.44,"q":40},{"s":"SWIM","t":1993.5,"q":150},{"s":"SWIM","t":1993.56,"q":600},{"s":"SWIM","t":1993.61,"q":1000},{"s":"SWIM","t":1993.65,"q":1050},{"s":"SWIM","t":1993.72,"q":1020},{"s":"SWIM","t":1993.8,"q":1080},{"s":"SWIM","t":1993.88,"q":1170},{"s":"SWIM","t":1993.96,"q":1220},{"s":"SWIM","t":1994.03,"q":1150},{"s":"SWIM","t":1994.1,"q":900},{"s":"SWIM","t":1994.18,"q":550},{"s":"SWIM","t":1994.26,"q":250},{"s":"SWIM","t":1994.34,"q":80},{"s":"SWIM","t":1994.42,"q":40},{"s":"SWIM","t":1994.5,"q":200},{"s":"SWIM","t":1994.56,"q":700},{"s":"SWIM","t":1994.61,"q":1500},{"s":"SWIM","t":1994.66,"q":1950},{"s":"SWIM","t":1994.69,"q":1900},{"s":"SWIM","t":1994.74,"q":1480},{"s":"SWIM","t":1994.8,"q":1550},{"s":"SWIM","t":1994.88,"q":1750},{"s":"SWIM","t":1994.96,"q":1960},{"s":"SWIM","t":1995.03,"q":2000},{"s":"SWIM","t":1995.1,"q":1800},{"s":"SWIM","t":1995.17,"q":1350},{"s":"SWIM","t":1995.25,"q":800},{"s":"SWIM","t":1995.32,"q":350},{"s":"SWIM","t":1995.4,"q":100},{"s":"SWIM","t":1995.48,"q":60},{"s":"SWIM","t":1995.56,"q":300},{"s":"SWIM","t":1995.58,"q":650},{"s":"SWIM","t":1995.6,"q":700},{"s":"SWIM","t":1995.66,"q":850},{"s":"SWIM","t":1995.73,"q":950},{"s":"SWIM","t":1995.8,"q":1150},{"s":"SWIM","t":1995.88,"q":1400},{"s":"SWIM","t":1995.95,"q":1650},{"s":"SWIM","t":1996.01,"q":1700},{"s":"SWIM","t":1996.08,"q":1550},{"s":"SWIM","t":1996.15,"q":1150},{"s":"SWIM","t":1996.22,"q":700},{"s":"SWIM","t":1996.3,"q":300},{"s":"SWIM","t":1996.38,"q":100},{"s":"SWIM","t":1996.43,"q":250},{"s":"SWIM","t":1996.45,"q":80},{"s":"SWIM","t":1996.52,"q":150},{"s":"SWIM","t":1996.6,"q":500},{"s":"SWIM","t":1996.66,"q":800},{"s":"SWIM","t":1996.72,"q":950},{"s":"SWIM","t":1996.8,"q":1150},{"s":"SWIM","t":1996.88,"q":1350},{"s":"SWIM","t":1996.96,"q":1450},{"s":"SWIM","t":1997.02,"q":1420},{"s":"SWIM","t":1997.09,"q":1200},{"s":"SWIM","t":1997.16,"q":850},{"s":"SWIM","t":1997.24,"q":450},{"s":"SWIM","t":1997.32,"q":150},{"s":"SWIM","t":1997.4,"q":50},{"s":"SWIM","t":1997.46,"q":350},{"s":"SWIM","t":1997.48,"q":60},{"s":"SWIM","t":1997.55,"q":200},{"s":"SWIM","t":1997.62,"q":600},{"s":"SWIM","t":1997.7,"q":950},{"s":"SWIM","t":1997.78,"q":1150},{"s":"SWIM","t":1997.86,"q":1350},{"s":"SWIM","t":1997.94,"q":1450},{"s":"SWIM","t":1998,"q":1430},{"s":"SWIM","t":1998.07,"q":1250},{"s":"SWIM","t":1998.14,"q":900},{"s":"SWIM","t":1998.22,"q":450},{"s":"SWIM","t":1998.3,"q":150},{"s":"SWIM","t":1998.38,"q":50},{"s":"SWIM","t":1998.46,"q":50},{"s":"SWIM","t":1998.48,"q":300},{"s":"SWIM","t":1998.5,"q":60},{"s":"SWIM","t":1998.58,"q":400},{"s":"SWIM","t":1998.64,"q":1000},{"s":"SWIM","t":1998.69,"q":1550},{"s":"SWIM","t":1998.72,"q":1600},{"s":"SWIM","t":1998.76,"q":1400},{"s":"SWIM","t":1998.82,"q":1450},{"s":"SWIM","t":1998.9,"q":1550},{"s":"SWIM","t":1998.97,"q":1650},{"s":"SWIM","t":1999.03,"q":1600},{"s":"SWIM","t":1999.1,"q":1300},{"s":"SWIM","t":1999.17,"q":850},{"s":"SWIM","t":1999.25,"q":400},{"s":"SWIM","t":1999.33,"q":150},{"s":"SWIM","t":1999.41,"q":60},{"s":"SWIM","t":1999.48,"q":50},{"s":"SWIM","t":1999.5,"q":300},{"s":"SWIM","t":1999.52,"q":60},{"s":"SWIM","t":1999.58,"q":400},{"s":"SWIM","t":1999.64,"q":1200},{"s":"SWIM","t":1999.68,"q":2000},{"s":"SWIM","t":1999.7,"q":2250},{"s":"SWIM","t":1999.74,"q":2000},{"s":"SWIM","t":1999.8,"q":1900},{"s":"SWIM","t":1999.88,"q":1900},{"s":"SWIM","t":1999.96,"q":1950},{"s":"SWIM","t":2000.03,"q":1900},{"s":"SWIM","t":2000.1,"q":1650},{"s":"SWIM","t":2000.17,"q":1200},{"s":"SWIM","t":2000.25,"q":700},{"s":"SWIM","t":2000.33,"q":300},{"s":"SWIM","t":2000.41,"q":100},{"s":"SWIM","t":2000.48,"q":60},{"s":"SWIM","t":2000.56,"q":300},{"s":"SWIM","t":2000.62,"q":750},{"s":"SWIM","t":2000.69,"q":1050},{"s":"SWIM","t":2000.75,"q":1200},{"s":"SWIM","t":2000.83,"q":1400},{"s":"SWIM","t":2000.91,"q":1580},{"s":"SWIM","t":2000.99,"q":1650},{"s":"SWIM","t":2001.05,"q":1580},{"s":"SWIM","t":2001.12,"q":1200},{"s":"SWIM","t":2001.2,"q":700},{"s":"SWIM","t":2001.28,"q":300},{"s":"SWIM","t":2001.36,"q":100},{"s":"SWIM","t":2001.44,"q":50},{"s":"SWIM","t":2001.52,"q":200},{"s":"SWIM","t":2001.58,"q":600},{"s":"SWIM","t":2001.64,"q":1100},{"s":"SWIM","t":2001.68,"q":1600},{"s":"SWIM","t":2001.71,"q":1200},{"s":"SWIM","t":2001.76,"q":1150},{"s":"SWIM","t":2001.83,"q":1400},{"s":"SWIM","t":2001.91,"q":1600},{"s":"SWIM","t":2001.98,"q":1650},{"s":"SWIM","t":2002.05,"q":1550},{"s":"SWIM","t":2002.12,"q":1150},{"s":"SWIM","t":2002.2,"q":650},{"s":"SWIM","t":2002.28,"q":250},{"s":"SWIM","t":2002.36,"q":80},{"s":"SWIM","t":2002.44,"q":50},{"s":"SWIM","t":2002.52,"q":150},{"s":"SWIM","t":2002.58,"q":500},{"s":"SWIM","t":2002.65,"q":950},{"s":"SWIM","t":2002.72,"q":1150},{"s":"SWIM","t":2002.8,"q":1300},{"s":"SWIM","t":2002.88,"q":1420},{"s":"SWIM","t":2002.95,"q":1450},{"s":"SWIM","t":2003.02,"q":1350},{"s":"SWIM","t":2003.09,"q":1100},{"s":"SWIM","t":2003.16,"q":700},{"s":"SWIM","t":2003.24,"q":300},{"s":"SWIM","t":2003.32,"q":100},{"s":"SWIM","t":2003.4,"q":40},{"s":"SWIM","t":2003.47,"q":100},{"s":"SWIM","t":2003.51,"q":1350},{"s":"SWIM","t":2003.53,"q":300},{"s":"SWIM","t":2003.58,"q":800},{"s":"SWIM","t":2003.63,"q":1300},{"s":"SWIM","t":2003.68,"q":1600},{"s":"SWIM","t":2003.73,"q":1500},{"s":"SWIM","t":2003.78,"q":1550},{"s":"SWIM","t":2003.85,"q":1650},{"s":"SWIM","t":2003.93,"q":1750},{"s":"SWIM","t":2004,"q":1820},
{"s":"Observed Diré","t":1988,"q":600},{"s":"Observed Diré","t":1988.05,"q":400},{"s":"Observed Diré","t":1988.1,"q":230},{"s":"Observed Diré","t":1988.15,"q":120},{"s":"Observed Diré","t":1988.2,"q":50},{"s":"Observed Diré","t":1988.27,"q":10},{"s":"Observed Diré","t":1988.35,"q":0},{"s":"Observed Diré","t":1988.45,"q":10},{"s":"Observed Diré","t":1988.52,"q":80},{"s":"Observed Diré","t":1988.58,"q":300},{"s":"Observed Diré","t":1988.64,"q":700},{"s":"Observed Diré","t":1988.7,"q":1200},{"s":"Observed Diré","t":1988.76,"q":1550},{"s":"Observed Diré","t":1988.82,"q":1700},{"s":"Observed Diré","t":1988.88,"q":1650},{"s":"Observed Diré","t":1988.94,"q":1400},{"s":"Observed Diré","t":1989,"q":1050},{"s":"Observed Diré","t":1989.06,"q":700},{"s":"Observed Diré","t":1989.12,"q":400},{"s":"Observed Diré","t":1989.18,"q":180},{"s":"Observed Diré","t":1989.25,"q":60},{"s":"Observed Diré","t":1989.32,"q":10},{"s":"Observed Diré","t":1989.42,"q":0},{"s":"Observed Diré","t":1989.5,"q":30},{"s":"Observed Diré","t":1989.56,"q":150},{"s":"Observed Diré","t":1989.62,"q":450},{"s":"Observed Diré","t":1989.68,"q":850},{"s":"Observed Diré","t":1989.74,"q":1200},{"s":"Observed Diré","t":1989.8,"q":1430},{"s":"Observed Diré","t":1989.85,"q":1470},{"s":"Observed Diré","t":1989.9,"q":1380},{"s":"Observed Diré","t":1989.96,"q":1100},{"s":"Observed Diré","t":1990.02,"q":750},{"s":"Observed Diré","t":1990.08,"q":430},{"s":"Observed Diré","t":1990.14,"q":200},{"s":"Observed Diré","t":1990.2,"q":70},{"s":"Observed Diré","t":1990.27,"q":15},{"s":"Observed Diré","t":1990.37,"q":0},{"s":"Observed Diré","t":1990.48,"q":20},{"s":"Observed Diré","t":1990.55,"q":150},{"s":"Observed Diré","t":1990.62,"q":500},{"s":"Observed Diré","t":1990.68,"q":950},{"s":"Observed Diré","t":1990.74,"q":1250},{"s":"Observed Diré","t":1990.8,"q":1420},{"s":"Observed Diré","t":1990.85,"q":1430},{"s":"Observed Diré","t":1990.9,"q":1300},{"s":"Observed Diré","t":1990.96,"q":1000},{"s":"Observed Diré","t":1991.02,"q":680},{"s":"Observed Diré","t":1991.08,"q":380},{"s":"Observed Diré","t":1991.14,"q":170},{"s":"Observed Diré","t":1991.2,"q":60},{"s":"Observed Diré","t":1991.27,"q":10},{"s":"Observed Diré","t":1991.37,"q":0},{"s":"Observed Diré","t":1991.47,"q":20},{"s":"Observed Diré","t":1991.54,"q":150},{"s":"Observed Diré","t":1991.6,"q":500},{"s":"Observed Diré","t":1991.66,"q":1000},{"s":"Observed Diré","t":1991.72,"q":1350},{"s":"Observed Diré","t":1991.78,"q":1530},{"s":"Observed Diré","t":1991.84,"q":1560},{"s":"Observed Diré","t":1991.9,"q":1420},{"s":"Observed Diré","t":1991.96,"q":1100},{"s":"Observed Diré","t":1992.02,"q":750},{"s":"Observed Diré","t":1992.08,"q":420},{"s":"Observed Diré","t":1992.14,"q":190},{"s":"Observed Diré","t":1992.2,"q":60},{"s":"Observed Diré","t":1992.27,"q":10},{"s":"Observed Diré","t":1992.37,"q":0},{"s":"Observed Diré","t":1992.47,"q":20},{"s":"Observed Diré","t":1992.54,"q":150},{"s":"Observed Diré","t":1992.6,"q":500},{"s":"Observed Diré","t":1992.66,"q":1000},{"s":"Observed Diré","t":1992.72,"q":1350},{"s":"Observed Diré","t":1992.78,"q":1500},{"s":"Observed Diré","t":1992.84,"q":1530},{"s":"Observed Diré","t":1992.9,"q":1420},{"s":"Observed Diré","t":1992.96,"q":1100},{"s":"Observed Diré","t":1993.02,"q":750},{"s":"Observed Diré","t":1993.08,"q":420},{"s":"Observed Diré","t":1993.14,"q":190},{"s":"Observed Diré","t":1993.2,"q":60},{"s":"Observed Diré","t":1993.27,"q":10},{"s":"Observed Diré","t":1993.37,"q":0},{"s":"Observed Diré","t":1993.48,"q":20},{"s":"Observed Diré","t":1993.55,"q":150},{"s":"Observed Diré","t":1993.62,"q":500},{"s":"Observed Diré","t":1993.68,"q":950},{"s":"Observed Diré","t":1993.74,"q":1250},{"s":"Observed Diré","t":1993.8,"q":1420},{"s":"Observed Diré","t":1993.86,"q":1450},{"s":"Observed Diré","t":1993.92,"q":1320},{"s":"Observed Diré","t":1993.98,"q":1000},{"s":"Observed Diré","t":1994.04,"q":650},{"s":"Observed Diré","t":1994.1,"q":350},{"s":"Observed Diré","t":1994.16,"q":150},{"s":"Observed Diré","t":1994.22,"q":50},{"s":"Observed Diré","t":1994.3,"q":10},{"s":"Observed Diré","t":1994.4,"q":0},{"s":"Observed Diré","t":1994.5,"q":50},{"s":"Observed Diré","t":1994.56,"q":400},{"s":"Observed Diré","t":1994.62,"q":1000},{"s":"Observed Diré","t":1994.68,"q":1500},{"s":"Observed Diré","t":1994.74,"q":1850},{"s":"Observed Diré","t":1994.8,"q":2100},{"s":"Observed Diré","t":1994.86,"q":2230},{"s":"Observed Diré","t":1994.92,"q":2260},{"s":"Observed Diré","t":1994.98,"q":2150},{"s":"Observed Diré","t":1995.04,"q":1800},{"s":"Observed Diré","t":1995.1,"q":1300},{"s":"Observed Diré","t":1995.16,"q":800},{"s":"Observed Diré","t":1995.22,"q":400},{"s":"Observed Diré","t":1995.28,"q":150},{"s":"Observed Diré","t":1995.35,"q":40},{"s":"Observed Diré","t":1995.44,"q":0},{"s":"Observed Diré","t":1995.52,"q":50},{"s":"Observed Diré","t":1995.58,"q":300},{"s":"Observed Diré","t":1995.64,"q":800},{"s":"Observed Diré","t":1995.7,"q":1300},{"s":"Observed Diré","t":1995.76,"q":1650},{"s":"Observed Diré","t":1995.82,"q":1850},{"s":"Observed Diré","t":1995.88,"q":1950},{"s":"Observed Diré","t":1995.93,"q":1900},{"s":"Observed Diré","t":1995.98,"q":1650},{"s":"Observed Diré","t":1996.04,"q":1250},{"s":"Observed Diré","t":1996.1,"q":800},{"s":"Observed Diré","t":1996.16,"q":400},{"s":"Observed Diré","t":1996.22,"q":150},{"s":"Observed Diré","t":1996.29,"q":40},{"s":"Observed Diré","t":1996.38,"q":0},{"s":"Observed Diré","t":1996.48,"q":30},{"s":"Observed Diré","t":1996.55,"q":200},{"s":"Observed Diré","t":1996.62,"q":700},{"s":"Observed Diré","t":1996.68,"q":1200},{"s":"Observed Diré","t":1996.74,"q":1550},{"s":"Observed Diré","t":1996.8,"q":1700},{"s":"Observed Diré","t":1996.85,"q":1710},{"s":"Observed Diré","t":1996.9,"q":1600},{"s":"Observed Diré","t":1996.96,"q":1300},{"s":"Observed Diré","t":1997.02,"q":900},{"s":"Observed Diré","t":1997.08,"q":500},{"s":"Observed Diré","t":1997.14,"q":220},{"s":"Observed Diré","t":1997.2,"q":80},{"s":"Observed Diré","t":1997.27,"q":15},{"s":"Observed Diré","t":1997.37,"q":0},{"s":"Observed Diré","t":1997.48,"q":30},{"s":"Observed Diré","t":1997.55,"q":200},{"s":"Observed Diré","t":1997.62,"q":700},{"s":"Observed Diré","t":1997.68,"q":1200},{"s":"Observed Diré","t":1997.74,"q":1550},{"s":"Observed Diré","t":1997.8,"q":1700},{"s":"Observed Diré","t":1997.85,"q":1710},{"s":"Observed Diré","t":1997.9,"q":1600},{"s":"Observed Diré","t":1997.96,"q":1300},{"s":"Observed Diré","t":1998.02,"q":900},{"s":"Observed Diré","t":1998.08,"q":500},{"s":"Observed Diré","t":1998.14,"q":220},{"s":"Observed Diré","t":1998.2,"q":80},{"s":"Observed Diré","t":1998.27,"q":15},{"s":"Observed Diré","t":1998.37,"q":0},{"s":"Observed Diré","t":1998.48,"q":30},{"s":"Observed Diré","t":1998.55,"q":250},{"s":"Observed Diré","t":1998.62,"q":800},{"s":"Observed Diré","t":1998.68,"q":1350},{"s":"Observed Diré","t":1998.74,"q":1750},{"s":"Observed Diré","t":1998.8,"q":1950},{"s":"Observed Diré","t":1998.86,"q":1980},{"s":"Observed Diré","t":1998.92,"q":1850},{"s":"Observed Diré","t":1998.98,"q":1500},{"s":"Observed Diré","t":1999.04,"q":1050},{"s":"Observed Diré","t":1999.1,"q":600},{"s":"Observed Diré","t":1999.16,"q":280},{"s":"Observed Diré","t":1999.22,"q":100},{"s":"Observed Diré","t":1999.3,"q":20},{"s":"Observed Diré","t":1999.4,"q":0},{"s":"Observed Diré","t":1999.55,"q":0},{"s":"Observed Diré","t":1999.6,"q":200},{"s":"Observed Diré","t":1999.65,"q":700},{"s":"Observed Diré","t":1999.7,"q":1300},{"s":"Observed Diré","t":1999.76,"q":1750},{"s":"Observed Diré","t":1999.82,"q":2050},{"s":"Observed Diré","t":1999.88,"q":2150},{"s":"Observed Diré","t":1999.93,"q":2100},{"s":"Observed Diré","t":1999.98,"q":1850},{"s":"Observed Diré","t":2000.04,"q":1400},{"s":"Observed Diré","t":2000.1,"q":900},{"s":"Observed Diré","t":2000.16,"q":450},{"s":"Observed Diré","t":2000.22,"q":180},{"s":"Observed Diré","t":2000.29,"q":50},{"s":"Observed Diré","t":2000.38,"q":0},{"s":"Observed Diré","t":2000.5,"q":30},{"s":"Observed Diré","t":2000.57,"q":250},{"s":"Observed Diré","t":2000.64,"q":800},{"s":"Observed Diré","t":2000.7,"q":1300},{"s":"Observed Diré","t":2000.76,"q":1650},{"s":"Observed Diré","t":2000.82,"q":1850},{"s":"Observed Diré","t":2000.88,"q":1910},{"s":"Observed Diré","t":2000.93,"q":1850},{"s":"Observed Diré","t":2000.98,"q":1600},{"s":"Observed Diré","t":2001.04,"q":1150},{"s":"Observed Diré","t":2001.1,"q":700},{"s":"Observed Diré","t":2001.16,"q":330},{"s":"Observed Diré","t":2001.22,"q":120},{"s":"Observed Diré","t":2001.3,"q":25},{"s":"Observed Diré","t":2001.4,"q":0},{"s":"Observed Diré","t":2001.5,"q":30},{"s":"Observed Diré","t":2001.57,"q":250},{"s":"Observed Diré","t":2001.64,"q":800},{"s":"Observed Diré","t":2001.7,"q":1350},{"s":"Observed Diré","t":2001.76,"q":1750},{"s":"Observed Diré","t":2001.82,"q":1930},{"s":"Observed Diré","t":2001.87,"q":1960},{"s":"Observed Diré","t":2001.92,"q":1850},{"s":"Observed Diré","t":2001.98,"q":1550},{"s":"Observed Diré","t":2002.04,"q":1100},{"s":"Observed Diré","t":2002.1,"q":650},{"s":"Observed Diré","t":2002.16,"q":300},{"s":"Observed Diré","t":2002.22,"q":110},{"s":"Observed Diré","t":2002.3,"q":20},{"s":"Observed Diré","t":2002.4,"q":0},{"s":"Observed Diré","t":2002.5,"q":30},{"s":"Observed Diré","t":2002.57,"q":250},{"s":"Observed Diré","t":2002.64,"q":750},{"s":"Observed Diré","t":2002.7,"q":1200},{"s":"Observed Diré","t":2002.76,"q":1500},{"s":"Observed Diré","t":2002.82,"q":1640},{"s":"Observed Diré","t":2002.87,"q":1650},{"s":"Observed Diré","t":2002.92,"q":1520},{"s":"Observed Diré","t":2002.98,"q":1200},{"s":"Observed Diré","t":2003.04,"q":800},{"s":"Observed Diré","t":2003.1,"q":450},{"s":"Observed Diré","t":2003.16,"q":200},{"s":"Observed Diré","t":2003.22,"q":70},{"s":"Observed Diré","t":2003.3,"q":10},{"s":"Observed Diré","t":2003.4,"q":0},{"s":"Observed Diré","t":2003.5,"q":30},{"s":"Observed Diré","t":2003.56,"q":200},{"s":"Observed Diré","t":2003.62,"q":700},{"s":"Observed Diré","t":2003.68,"q":1300},{"s":"Observed Diré","t":2003.74,"q":1750},{"s":"Observed Diré","t":2003.8,"q":2000},{"s":"Observed Diré","t":2003.86,"q":2100},{"s":"Observed Diré","t":2003.92,"q":2100},{"s":"Observed Diré","t":2003.97,"q":2050},{"s":"Observed Diré","t":2004,"q":2000}
]
},
"vconcat": [
{
  "width": 678, "height": 96,
  "title": {"text": "Alcongui (Goroul River)", "offset": 2},
  "layer": [
    {"data": {"name": "aO"}, "mark": {"type": "line", "color": "#000000", "strokeWidth": 1.5},
     "encoding": {
       "x": {"field": "t", "type": "quantitative", "scale": {"domain": [1963, 1979], "nice": false, "zero": false},
             "axis": {"values": [1963,1964,1965,1966,1967,1968,1969,1970,1971,1972,1973,1974,1975,1976,1977,1978,1979], "format": "d", "labelExpr": "datum.value % 2 == 1 ? datum.label : ''", "offset": 3, "tickSize": 5, "labelPadding": 5, "title": null, "labelFlush": false, "labelOverlap": false}},
       "y": {"field": "q", "type": "quantitative", "scale": {"domain": [0, 200], "nice": false},
             "axis": {"values": [0,50,100,150], "format": "d", "domain": false, "offset": 5, "tickSize": 6, "labelPadding": 10, "title": "Discharge in m³*s⁻¹", "titleX": -59, "titleY": 48, "titleAngle": -90, "titleBaseline": "middle", "titleAlign": "center"}}
     }},
    {"data": {"name": "aS"}, "mark": {"type": "line", "color": "#ff0000", "strokeWidth": 1.5},
     "encoding": {"x": {"field": "t", "type": "quantitative"}, "y": {"field": "q", "type": "quantitative"}}},
    {"data": {"values": [{"t": 1971, "q": 0, "q2": 203}]}, "mark": {"type": "rule", "color": "#333333", "strokeWidth": 1.5, "strokeDash": [6, 4]},
     "encoding": {"x": {"field": "t", "type": "quantitative"}, "y": {"field": "q", "type": "quantitative"}, "y2": {"field": "q2"}}},
    {"data": {"values": [{"t": 1962.882, "q": 0, "q2": 150}]}, "mark": {"type": "rule", "color": "#808080", "strokeWidth": 1, "clip": false},
     "encoding": {"x": {"field": "t", "type": "quantitative"}, "y": {"field": "q", "type": "quantitative"}, "y2": {"field": "q2"}}},
    {"data": {"values": [{"t": 1963.05, "q": 204, "label": "Calibration: NSE: 0.58, PBIAS: -0.4"}, {"t": 1971.34, "q": 209, "label": "Validation: NSE: 0.55, PBIAS: -16.9"}]},
     "mark": {"type": "text", "align": "left", "baseline": "middle", "fontSize": 13.8, "color": "#1a1a1a"},
     "encoding": {"x": {"field": "t", "type": "quantitative"}, "y": {"field": "q", "type": "quantitative"}, "text": {"field": "label"}}}
  ]
},
{
  "width": 678, "height": 95,
  "title": {"text": "Garbe-Kourou (Sirba River)", "offset": -2.7},
  "layer": [
    {"data": {"name": "bO"}, "mark": {"type": "line", "color": "#000000", "strokeWidth": 1.5},
     "encoding": {
       "x": {"field": "t", "type": "quantitative", "scale": {"domain": [1978, 1994], "nice": false, "zero": false},
             "axis": {"values": [1978,1979,1980,1981,1982,1983,1984,1985,1986,1987,1988,1989,1990,1991,1992,1993,1994], "format": "d", "labelExpr": "datum.value % 2 == 0 ? datum.label : ''", "offset": 3, "tickSize": 5, "labelPadding": 5, "title": null, "labelFlush": false, "labelOverlap": false}},
       "y": {"field": "q", "type": "quantitative", "scale": {"domain": [0, 469], "nice": false},
             "axis": {"values": [0,100,200,300,400], "format": "d", "domain": false, "offset": 5, "tickSize": 6, "labelPadding": 10, "title": "Discharge in m³*s⁻¹", "titleX": -59, "titleY": 47.5, "titleAngle": -90, "titleBaseline": "middle", "titleAlign": "center"}}
     }},
    {"data": {"name": "bS"}, "mark": {"type": "line", "color": "#ff0000", "strokeWidth": 1.5},
     "encoding": {"x": {"field": "t", "type": "quantitative"}, "y": {"field": "q", "type": "quantitative"}}},
    {"data": {"values": [{"t": 1986, "q": 0, "q2": 469}]}, "mark": {"type": "rule", "color": "#333333", "strokeWidth": 1.5, "strokeDash": [6, 4]},
     "encoding": {"x": {"field": "t", "type": "quantitative"}, "y": {"field": "q", "type": "quantitative"}, "y2": {"field": "q2"}}},
    {"data": {"values": [{"t": 1977.882, "q": 0, "q2": 400}]}, "mark": {"type": "rule", "color": "#808080", "strokeWidth": 1, "clip": false},
     "encoding": {"x": {"field": "t", "type": "quantitative"}, "y": {"field": "q", "type": "quantitative"}, "y2": {"field": "q2"}}},
    {"data": {"values": [{"t": 1978.05, "q": 466, "label": "Validation: NSE: 0.49, PBIAS: 34.5"}, {"t": 1986.32, "q": 502, "label": "Calibration: NSE: 0.66, PBIAS: 22.1"}]},
     "mark": {"type": "text", "align": "left", "baseline": "middle", "fontSize": 13.8, "color": "#1a1a1a"},
     "encoding": {"x": {"field": "t", "type": "quantitative"}, "y": {"field": "q", "type": "quantitative"}, "text": {"field": "label"}}}
  ]
},
{
  "width": 678, "height": 96,
  "title": {"text": "Niamey (Niger River)", "offset": -2.6},
  "layer": [
    {"data": {"name": "c"}, "transform": [{"filter": "datum.s == 'Observed Diré'"}], "mark": {"type": "line", "strokeWidth": 1.8, "interpolate": "monotone"},
     "encoding": {
       "x": {"field": "t", "type": "quantitative", "scale": {"domain": [1988, 2004], "nice": false, "zero": false},
             "axis": {"values": [1988,1989,1990,1991,1992,1993,1994,1995,1996,1997,1998,1999,2000,2001,2002,2003,2004], "format": "d", "labelExpr": "datum.value % 2 == 0 ? datum.label : ''", "offset": 3, "tickSize": 5, "labelPadding": 5, "title": null, "labelFlush": false, "labelOverlap": false}},
       "y": {"field": "q", "type": "quantitative", "scale": {"domain": [0, 2356], "nice": false},
             "axis": {"values": [0,500,1000,1500,2000], "format": "d", "domain": false, "offset": 5, "tickSize": 6, "labelPadding": 10, "title": "Discharge in m³*s⁻¹", "titleX": -59, "titleY": 48, "titleAngle": -90, "titleBaseline": "middle", "titleAlign": "center"}},
       "color": {"field": "s", "type": "nominal", "scale": {"domain": ["SWIM", "Observed", "Observed Diré"], "range": ["#ff0000", "#000000", "#000000"]},
                 "legend": {"title": null, "orient": "none", "legendX": -37.7, "legendY": 125, "direction": "horizontal", "encode": {"labels": {"update": {"fill": {"signal": "datum.value == 'SWIM' ? '#ff0000' : '#000000'"}}}}}},
       "strokeDash": {"field": "s", "type": "nominal", "scale": {"domain": ["SWIM", "Observed", "Observed Diré"], "range": [[1, 0], [1, 0], [2, 2.5]]},
                 "legend": {"title": null, "orient": "none", "legendX": -37.7, "legendY": 125, "direction": "horizontal", "encode": {"labels": {"update": {"fill": {"signal": "datum.value == 'SWIM' ? '#ff0000' : '#000000'"}}}}}}
     }},
    {"data": {"name": "c"}, "transform": [{"filter": "datum.s == 'Observed'"}], "mark": {"type": "line", "strokeWidth": 1.5, "interpolate": "monotone"},
     "encoding": {"x": {"field": "t", "type": "quantitative"}, "y": {"field": "q", "type": "quantitative"},
       "color": {"field": "s", "type": "nominal"}, "strokeDash": {"field": "s", "type": "nominal"}}},
    {"data": {"name": "c"}, "transform": [{"filter": "datum.s == 'SWIM'"}], "mark": {"type": "line", "strokeWidth": 1.5, "interpolate": "monotone"},
     "encoding": {"x": {"field": "t", "type": "quantitative"}, "y": {"field": "q", "type": "quantitative"},
       "color": {"field": "s", "type": "nominal"}, "strokeDash": {"field": "s", "type": "nominal"}}},
    {"data": {"values": [{"t": 1996, "q": 0, "q2": 2594}]}, "mark": {"type": "rule", "color": "#333333", "strokeWidth": 1.5, "strokeDash": [6, 4]},
     "encoding": {"x": {"field": "t", "type": "quantitative"}, "y": {"field": "q", "type": "quantitative"}, "y2": {"field": "q2"}}},
    {"data": {"values": [{"t": 1987.882, "q": 0, "q2": 2000}]}, "mark": {"type": "rule", "color": "#808080", "strokeWidth": 1, "clip": false},
     "encoding": {"x": {"field": "t", "type": "quantitative"}, "y": {"field": "q", "type": "quantitative"}, "y2": {"field": "q2"}}},
    {"data": {"values": [{"t": 1988.05, "q": 2265, "label": "Calibration: NSE: 0.86, PBIAS: 12.2"}, {"t": 1996.34, "q": 2454, "label": "Validation: NSE: 0.87, PBIAS: 6.9"}]},
     "mark": {"type": "text", "align": "left", "baseline": "middle", "fontSize": 13.8, "color": "#1a1a1a"},
     "encoding": {"x": {"field": "t", "type": "quantitative"}, "y": {"field": "q", "type": "quantitative"}, "text": {"field": "label"}}}
  ]
}
]
}
